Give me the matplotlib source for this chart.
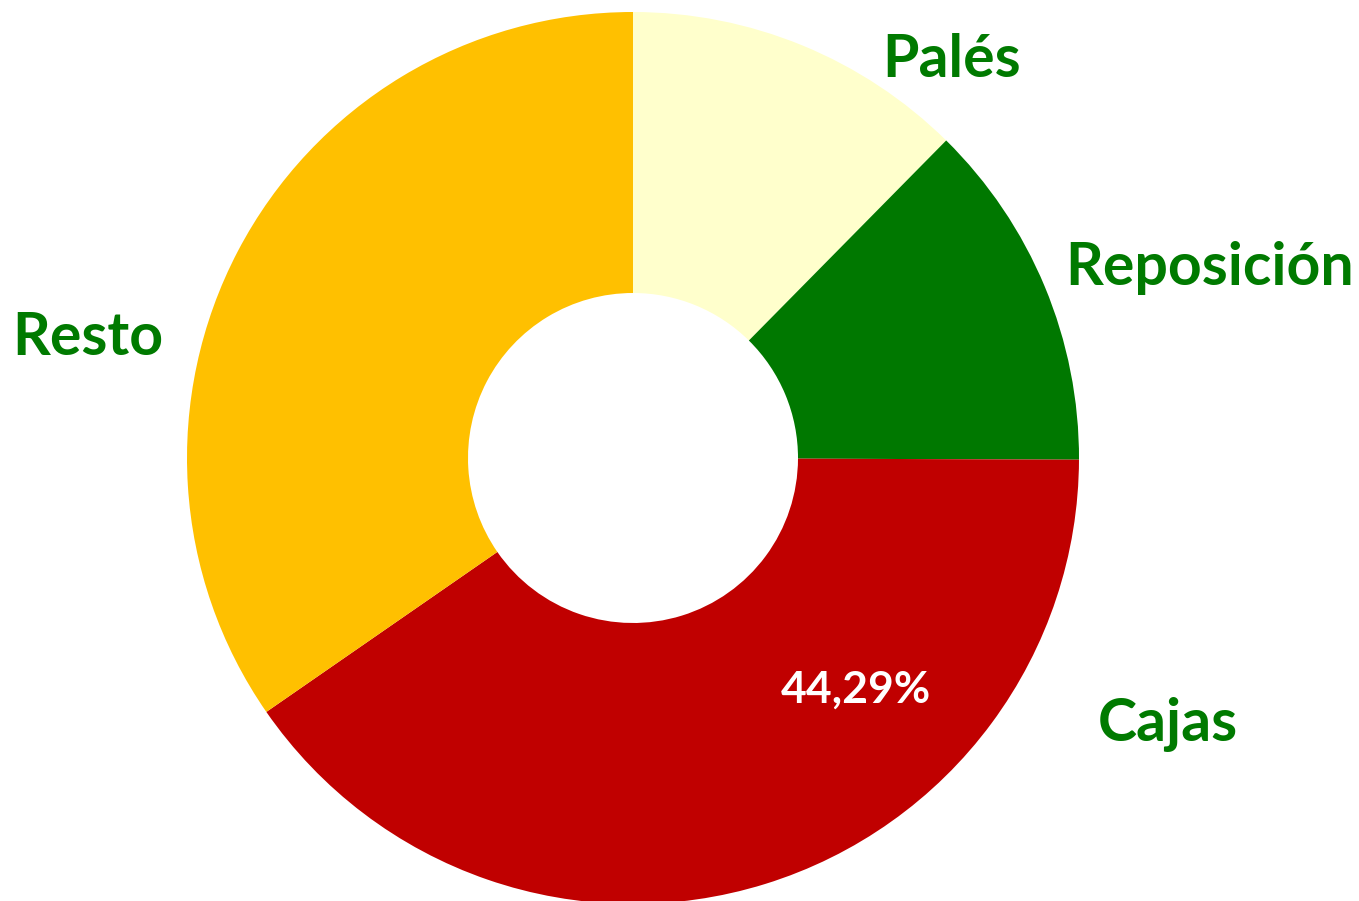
import matplotlib
matplotlib.use("Agg")
import matplotlib.pyplot as plt

categories = ["Palés", "Reposición", "Cajas", "Resto"]
values = [12.39, 12.67, 40.30, 34.64]
colors = ["#FFFFCC", "#007800", "#C00000", "#FFC000"]
value_label = "44,29%"

W, H = 1359, 901
fig = plt.figure(figsize=(W / 100, H / 100), dpi=100)
ax = fig.add_axes([0, 0, 1, 1])
ax.set_xlim(0, W)
ax.set_ylim(0, H)
ax.set_aspect("equal")
ax.axis("off")

cx, cy = 633, H - 458
R = 446
r_in = 165
ax.pie(values, colors=colors, startangle=90, counterclock=False,
       center=(cx, cy), radius=R, frame=True,
       wedgeprops=dict(width=R - r_in, linewidth=0, antialiased=True))
ax.set_xlim(0, W)
ax.set_ylim(0, H)
ax.axis("off")

green = "#007A00"
font = "Lato"
label_pos = [(952, 60), (1210, 268), (1168, 725), (88, 338)]
for name, (x, y) in zip(categories, label_pos):
    ax.text(x, H - y, name, ha="center", va="center", fontsize=42.5,
            fontweight="bold", color=green, family=font)

ax.text(856, H - 690, value_label, ha="center", va="center", fontsize=32,
        fontweight="bold", color="white", family=font)

fig.savefig("out.png", dpi=100)
